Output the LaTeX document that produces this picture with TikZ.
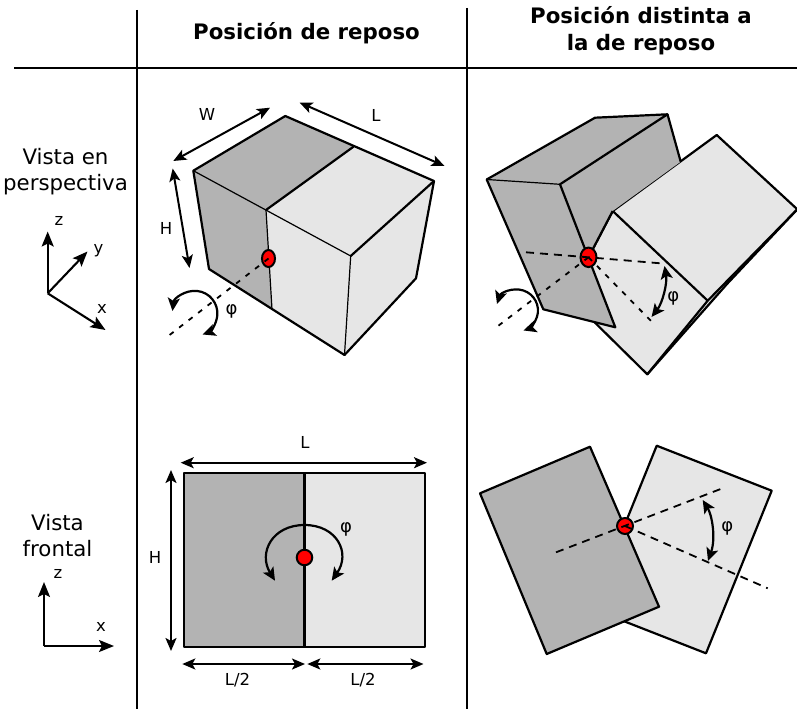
\documentclass[tikz,border=0pt]{standalone}
\usepackage{fontspec}
\setmainfont{DejaVu Sans}
\usetikzlibrary{arrows.meta,shapes.geometric}
\definecolor{darkface}{HTML}{B3B3B3}
\definecolor{lightface}{HTML}{E6E6E6}
\tikzset{
  x=1pt,y=-1pt,
  grid line/.style={line width=2.2pt,black},
  edge/.style={line width=2.2pt,black,line join=round},
  thin edge/.style={line width=1.2pt,black},
  dark/.style={fill=darkface,draw=black,line width=2.2pt,line join=round},
  light/.style={fill=lightface,draw=black,line width=2.2pt,line join=round},
  pivot/.style={fill=red,draw=black,line width=2pt},
  axisdash/.style={line width=1.8pt,black,dash pattern=on 8pt off 6pt},
  shortdash/.style={line width=1.8pt,black,dash pattern=on 5pt off 7pt},
  dim/.style={line width=2pt,black,{Stealth[length=13pt,width=11pt,inset=3pt]}-{Stealth[length=13pt,width=11pt,inset=3pt]}},
  rot/.style={line width=2.2pt,black},
  tipboth/.style={{Stealth[length=13pt,width=12pt,inset=3pt]}-{Stealth[length=13pt,width=12pt,inset=3pt]}},
  axisarrow/.style={line width=2.1pt,black,-{Stealth[length=15pt,width=12pt,inset=3pt]}},
  label/.style={inner sep=0pt,font=\fontsize{16.5}{19}\selectfont},
  philabel/.style={inner sep=0pt,font=\fontsize{18}{20}\selectfont},
  head/.style={inner sep=0pt,align=center,font=\fontsize{21.3}{27}\selectfont\bfseries},
  side/.style={inner sep=0pt,align=center,font=\fontsize{21.3}{26}\selectfont},
}
\begin{document}
\begin{tikzpicture}
\useasboundingbox (0,0) rectangle (797,709);
\fill[white] (0,0) rectangle (797,709);
% table rules
\coordinate (hl) at (14,68); \coordinate (hr) at (797,68);
\coordinate (v1t) at (137,10); \coordinate (v1b) at (137,709);
\coordinate (v2t) at (467,8); \coordinate (v2b) at (467,709);
\draw[grid line] (hl) -- (hr);
\draw[grid line] (v1t) -- (v1b);
\draw[grid line] (v2t) -- (v2b);
% headings
\node[head] (h1) at (306.5,33.5) {Posición de reposo};
\node[head] (h2) at (641,30.5) {Posición distinta a\\la de reposo};
\node[side] (s1) at (65.5,172) {Vista en\\perspectiva};
\node[side] (s2) at (57.5,535.5) {Vista\\frontal};
% axes, perspective
\coordinate (o1) at (47.7,293.3);
\coordinate (z1) at (47.7,231.5);
\coordinate (y1) at (87.5,251.5);
\coordinate (x1) at (105.5,330);
\draw[axisarrow] (o1) -- (z1);
\draw[axisarrow] (o1) -- (y1);
\draw[axisarrow] (o1) -- (x1);
\node[label] (lz1) at (59,221) {z};
\node[label] (ly1) at (98.5,251) {y};
\node[label] (lx1) at (102,309) {x};
% axes, front
\coordinate (o2) at (44,646);
\coordinate (z2) at (44,582);
\coordinate (x2) at (114,646);
\draw[axisarrow] (o2) -- (z2);
\draw[axisarrow] (o2) -- (x2);
\node[label] (lz2) at (58,574) {z};
\node[label] (lx2) at (101,627) {x};
% ---- box at rest, perspective
\coordinate (a) at (193.3,170.7);
\coordinate (b) at (285.3,116);
\coordinate (c) at (353.5,146.7);
\coordinate (d) at (434,181);
\coordinate (e) at (266,210);
\coordinate (f) at (350.7,256);
\coordinate (g) at (209,269);
\coordinate (h) at (272,309.3);
\coordinate (i) at (344.5,355);
\coordinate (j) at (416,278.3);
\fill[darkface] (a) -- (b) -- (c) -- (e) -- (h) -- (g) -- cycle;
\fill[lightface] (c) -- (d) -- (j) -- (i) -- (h) -- (e) -- cycle;
\draw[edge] (a) -- (b) -- (d) -- (j) -- (i) -- (g) -- cycle;
\draw[edge] (e) -- (c);
\draw[edge] (f) -- (d);
\draw[thin edge] (a) -- (f) -- (i);
\draw[thin edge] (e) -- (h);
\node[pivot,ellipse,minimum width=13pt,minimum height=17pt,inner sep=0pt] (p1) at (268.5,258.5) {};
\coordinate (p1c) at (268.5,258.5);
\coordinate (p1e) at (167,337);
\draw[shortdash] (p1c) -- (p1e);
\coordinate (r1) at (172.5,311);
\draw[rot,tipboth] (r1) arc[start angle=186,end angle=430,radius=22.5];
\node[philabel] (phi1) at (231.5,311) {φ};
\coordinate (w1) at (173.3,161); \coordinate (w2) at (270,107.7);
\coordinate (l1) at (299.5,102.5); \coordinate (l2) at (444.5,166);
\coordinate (h1a) at (172.7,168.5); \coordinate (h2a) at (189.5,268);
\draw[dim] (w1) -- (w2);
\draw[dim] (l1) -- (l2);
\draw[dim] (h1a) -- (h2a);
\node[label] (lw) at (207,114.5) {W};
\node[label] (ll) at (376,115) {L};
\node[label] (lh) at (166,228) {H};
% ---- rotated, perspective
\coordinate (q1) at (797.3,209.3);
\coordinate (q2) at (716.7,135);
\coordinate (q3) at (612.7,211);
\coordinate (q4) at (707.7,300.7);
\coordinate (q5) at (647.3,374.3);
\coordinate (q6) at (727,284);
\coordinate (q7) at (595,322.7);
\coordinate (pv) at (588.5,257.3);
\draw[light] (q1) -- (q2) -- (q3) -- (pv) -- (q7) -- (q5) -- (q6) -- cycle;
\draw[edge] (q3) -- (q4) -- (q1);
\draw[edge] (q4) -- (q5);
\coordinate (t1) at (486.7,179.5);
\coordinate (t2) at (595,117.7);
\coordinate (t3) at (667.5,114.3);
\coordinate (t4) at (560,184.3);
\coordinate (t5) at (680.7,161.7);
\coordinate (t6) at (543.3,309.3);
\coordinate (t7) at (615.3,327.3);
\fill[darkface] (t1) -- (t2) -- (t3) -- (t5) -- (q3) -- (pv) -- (t7) -- (t6) -- cycle;
\draw[edge] (t1) -- (t2) -- (t3) -- (t4) -- (t7) -- (t6) -- cycle;
\draw[edge] (t3) -- (t5);
\draw[edge] (q3) -- (pv);
\draw[thin edge] (t1) -- (t4);
\node[pivot,ellipse,minimum width=16pt,minimum height=19.5pt,inner sep=0pt] (p2) at (pv) {};
\coordinate (dn1) at (526,252.3);
\coordinate (dn2) at (662.7,263.5);
\coordinate (dn3) at (654.5,324.5);
\coordinate (dn4) at (498,326);
\draw[axisdash] (dn1) -- (pv) -- (dn2);
\draw[shortdash] (pv) -- (dn3);
\draw[shortdash] (pv) -- (dn4);
\coordinate (r2) at (497,304);
\draw[rot,tipboth] (r2) arc[start angle=198,end angle=432,radius=21];
\coordinate (ph1) at (664.5,266);
\coordinate (ph2) at (651.5,317);
\draw[rot,tipboth] (ph1) .. controls (667.5,283) and (662.5,303) .. (ph2);
\node[philabel] (phi2) at (673.3,298.3) {φ};
% ---- front, at rest
\coordinate (fa) at (184,473.3);
\coordinate (fm) at (304.5,473.3);
\coordinate (fb) at (425.3,647.3);
\coordinate (fn) at (304.5,647.3);
\draw[dark] (fa) rectangle (fn);
\draw[light] (fm) rectangle (fb);
\node[pivot,circle,minimum size=15.5pt,inner sep=0pt] (p3) at (304.5,557.5) {};
\coordinate (f1) at (275,580.7);
\draw[rot,tipboth] (f1) .. controls (258,553) and (272,525) .. (304.5,525) .. controls (337,525) and (351,553) .. (331.7,580.7);
\node[philabel] (phi3) at (346,529) {φ};
\coordinate (dl1) at (180.7,462.7); \coordinate (dl2) at (427,462.7);
\coordinate (dh1) at (171,470); \coordinate (dh2) at (171,651);
\coordinate (da1) at (182.3,664); \coordinate (da2) at (305,664);
\coordinate (da3) at (307.3,664); \coordinate (da4) at (423.5,664);
\draw[dim] (dl1) -- (dl2);
\draw[dim] (dh1) -- (dh2);
\draw[dim] (da1) -- (da2);
\draw[dim] (da3) -- (da4);
\node[label] (fl) at (305,442) {L};
\node[label] (fh) at (155,557) {H};
\node[label] (fl1) at (237.5,680) {L/2};
\node[label] (fl2) at (363,680) {L/2};
% ---- front, rotated
\coordinate (u1) at (656.7,445.7);
\coordinate (u2) at (771.7,490.7);
\coordinate (u3) at (706,653.3);
\coordinate (u4) at (591,608.3);
\draw[light] (u1) -- (u2) -- (u3) -- (u4) -- cycle;
\coordinate (v1) at (480,493.3);
\coordinate (v2) at (590,446.7);
\coordinate (v3) at (659,606.7);
\coordinate (v4) at (546.7,654);
\draw[dark] (v1) -- (v2) -- (v3) -- (v4) -- cycle;
\coordinate (pw) at (625,526);
\node[pivot,circle,minimum size=16pt,inner sep=0pt] (p4) at (pw) {};
\coordinate (w3) at (556,552.3);
\coordinate (w4) at (724,487.7);
\coordinate (w5) at (767.7,588.3);
\draw[axisdash] (w3) -- (w4);
\draw[axisdash] (pw) -- (w5);
\coordinate (ph3) at (702.7,500);
\coordinate (ph4) at (708,561);
\draw[rot,tipboth] (ph3) .. controls (712,515) and (716,538) .. (ph4);
\node[philabel] (phi4) at (727.3,528) {φ};
\end{tikzpicture}
\end{document}
